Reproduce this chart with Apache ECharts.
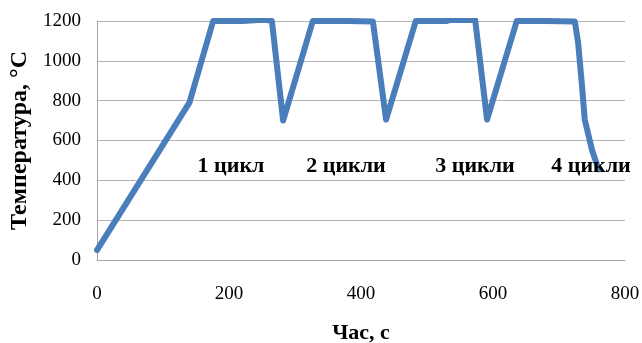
<!DOCTYPE html>
<html>
<head>
<meta charset="utf-8">
<script src="https://cdn.jsdelivr.net/npm/echarts@6/dist/echarts.min.js"></script>
<style>
html,body{margin:0;padding:0;background:#fff;}
#c{width:642px;height:343px;}
</style>
</head>
<body>
<div id="c"></div>
<script>
// Time (s)
const timeS = [0, 140, 176, 220, 245, 258, 265, 282, 327, 380, 418, 438, 483, 530, 535, 573, 591, 636, 680, 724, 729, 735, 739, 750, 760];
// Temperature (°C)
const tempC = [50, 790, 1200, 1200, 1205, 1205, 1200, 700, 1200, 1200, 1198, 705, 1200, 1200, 1205, 1205, 705, 1200, 1200, 1198, 1090, 870, 705, 552, 455];
const xTicks = [0, 200, 400, 600, 800];
const yTicks = [0, 200, 400, 600, 800, 1000, 1200];
const cycleLabels = ['1 цикл', '2 цикли', '3 цикли', '4 цикли'];
const xTitle = 'Час, с';
const yTitle = 'Температура, °С';

const serif = '"Liberation Serif", "Times New Roman", serif';
const data = timeS.map((t, i) => [t, tempC[i]]);
const labelPos = [[231, 166], [346, 166], [475, 166], [591, 166]];

const chart = echarts.init(document.getElementById('c'));
chart.setOption({
  animation: false,
  backgroundColor: '#fff',
  grid: {left: 97, right: 17, top: 21, bottom: 83, containLabel: false, outerBoundsMode: 'none'},
  xAxis: {
    type: 'value', min: xTicks[0], max: xTicks[xTicks.length - 1], interval: 200,
    axisLine: {show: true, lineStyle: {color: '#a6a6a6', width: 1}},
    axisTick: {show: false},
    splitLine: {show: false},
    axisLabel: {color: '#000', fontFamily: serif, fontSize: 19, margin: 25, formatter: v => String(v)},
    name: xTitle, nameLocation: 'middle', nameGap: 62,
    nameTextStyle: {color: '#000', fontFamily: serif, fontSize: 22, fontWeight: 'bold'}
  },
  yAxis: {
    type: 'value', min: yTicks[0], max: yTicks[yTicks.length - 1], interval: 200,
    axisLine: {show: true, lineStyle: {color: '#a6a6a6', width: 1}},
    axisTick: {show: false},
    splitLine: {show: true, lineStyle: {color: '#b4b4b4', width: 1}},
    axisLabel: {color: '#000', fontFamily: serif, fontSize: 19, margin: 16, formatter: v => String(v)},
    name: yTitle, nameLocation: 'middle', nameGap: 59, nameRotate: 90,
    nameTextStyle: {color: '#000', fontFamily: serif, fontSize: 24, fontWeight: 'bold'}
  },
  series: [{
    type: 'line', data: data, showSymbol: false, smooth: false,
    lineStyle: {color: '#4a7ebb', width: 6, join: 'round', cap: 'round'},
    itemStyle: {color: '#4a7ebb'}
  }],
  graphic: cycleLabels.map((t, i) => ({
    type: 'text', x: labelPos[i][0], y: labelPos[i][1], z: 10,
    style: {text: t, fill: '#000', font: 'bold 22px ' + serif, align: 'center', verticalAlign: 'middle'}
  }))
});
</script>
</body>
</html>
